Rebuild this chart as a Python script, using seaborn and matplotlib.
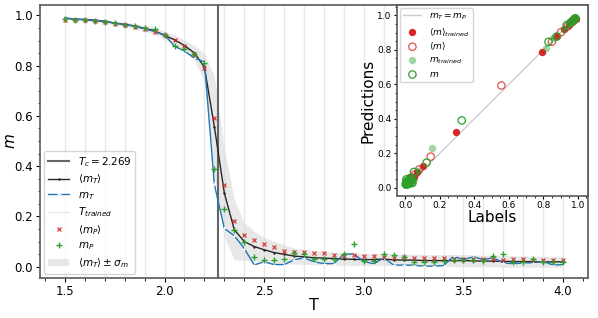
import matplotlib
matplotlib.use("Agg")
import matplotlib.pyplot as plt
import numpy as np
import seaborn as sns

# temperatures
T = [1.5, 1.55, 1.6, 1.65, 1.7, 1.75, 1.8, 1.85, 1.9, 1.95,
     2.0, 2.05, 2.1, 2.15, 2.2, 2.25, 2.3, 2.35, 2.4, 2.45,
     2.5, 2.55, 2.6, 2.65, 2.7, 2.75, 2.8, 2.85, 2.9, 2.95,
     3.0, 3.05, 3.1, 3.15, 3.2, 3.25, 3.3, 3.35, 3.4, 3.45,
     3.5, 3.55, 3.6, 3.65, 3.7, 3.75, 3.8, 3.85, 3.9, 3.95, 4.0]

# <m_T> mean magnetisation (true)
mT_mean = [0.989, 0.985, 0.983, 0.980, 0.976, 0.969, 0.964, 0.958, 0.948, 0.939,
           0.920, 0.903, 0.880, 0.850, 0.794, 0.557, 0.293, 0.147, 0.100, 0.080,
           0.067, 0.056, 0.049, 0.042, 0.039, 0.035, 0.034, 0.032, 0.030, 0.029,
           0.028, 0.028, 0.030, 0.027, 0.026, 0.026, 0.024, 0.024, 0.024, 0.024,
           0.024, 0.023, 0.022, 0.022, 0.021, 0.020, 0.020, 0.020, 0.019, 0.019, 0.019]

# m_T single sample (true)
mT = [0.990, 0.985, 0.984, 0.981, 0.977, 0.969, 0.963, 0.957, 0.946, 0.936,
      0.922, 0.877, 0.858, 0.830, 0.815, 0.327, 0.152, 0.123, 0.072, 0.007,
      0.019, 0.008, 0.008, 0.027, 0.035, 0.019, 0.012, 0.012, 0.050, 0.050,
      0.021, 0.011, 0.035, 0.006, 0.006, 0.006, 0.002, 0.002, 0.004, 0.041,
      0.028, 0.039, 0.028, 0.035, 0.015, 0.011, 0.015, 0.015, 0.021, 0.006, 0.008]

# <m_P> mean prediction
mP_mean = [0.982, 0.981, 0.980, 0.977, 0.972, 0.966, 0.960, 0.955, 0.945, 0.934,
           0.920, 0.903, 0.878, 0.847, 0.790, 0.593, 0.325, 0.180, 0.125, 0.105,
           0.090, 0.077, 0.064, 0.058, 0.057, 0.053, 0.053, 0.046, 0.044, 0.048,
           0.044, 0.041, 0.039, 0.035, 0.039, 0.035, 0.035, 0.035, 0.035, 0.032,
           0.032, 0.032, 0.032, 0.032, 0.028, 0.030, 0.030, 0.028, 0.028, 0.028, 0.028]

# m_P single sample prediction
mP = [0.984, 0.983, 0.981, 0.979, 0.975, 0.968, 0.962, 0.957, 0.950, 0.944,
      0.923, 0.877, 0.866, 0.847, 0.810, 0.390, 0.231, 0.145, 0.097, 0.037,
      0.025, 0.025, 0.030, 0.056, 0.050, 0.032, 0.030, 0.032, 0.052, 0.091,
      0.024, 0.021, 0.052, 0.048, 0.037, 0.019, 0.019, 0.019, 0.024, 0.028,
      0.028, 0.028, 0.021, 0.041, 0.050, 0.019, 0.019, 0.032, 0.019, 0.019, 0.019]

# sigma_m
sigma = [0.004, 0.005, 0.005, 0.006, 0.007, 0.008, 0.009, 0.010, 0.012, 0.014,
         0.016, 0.019, 0.022, 0.030, 0.055, 0.200, 0.175, 0.120, 0.075, 0.060,
         0.050, 0.045, 0.038, 0.032, 0.030, 0.028, 0.027, 0.026, 0.025, 0.025,
         0.024, 0.024, 0.024, 0.024, 0.024, 0.024, 0.024, 0.024, 0.024, 0.024,
         0.024, 0.024, 0.023, 0.023, 0.023, 0.023, 0.022, 0.022, 0.022, 0.022, 0.022]

T_trained = [1.5, 1.6, 1.7, 1.8, 1.9, 2.0, 2.1, 2.2, 2.3, 2.4, 2.5, 2.6, 2.7,
             2.8, 2.9, 3.0, 3.1, 3.2, 3.3, 3.4, 3.5, 3.6, 3.7, 3.8, 3.9, 4.0]
Tc = 2.269

T_arr = np.array(T)
mT_mean_arr = np.array(mT_mean)
sig_arr = np.array(sigma)
trained = np.isin(np.round(T_arr, 2), np.round(T_trained, 2))

fig = plt.figure(figsize=(5.98, 3.18), dpi=100)
ax = fig.add_axes([0.0669, 0.126, 0.9164, 0.858])

band = ax.fill_between(T_arr, mT_mean_arr - sig_arr, mT_mean_arr + sig_arr,
                       color='0.84', alpha=0.55, lw=0)
for t in T_trained:
    vl = ax.axvline(t, color='0.91', lw=1, zorder=0.5)
tc_line = ax.axvline(Tc, color='0.4', lw=1.5)

sns.lineplot(x=T, y=mT_mean, ax=ax, color='0.15', lw=1, marker='.',
             markersize=3.5, markeredgewidth=0)
sns.lineplot(x=T, y=mT, ax=ax, color='tab:blue', lw=1, marker='+',
             markersize=2.5, markeredgewidth=0.6)
h_mean, = ax.plot(T, mP_mean, ls='none', color='tab:red', marker='x',
                  markersize=3.5, markeredgewidth=1, alpha=0.8)
h_mp, = ax.plot(T, mP, ls='none', color='tab:green', marker='+',
                markersize=4, markeredgewidth=1)

lines = ax.get_lines()
handles = [tc_line, lines[-4], lines[-3], vl, h_mean, h_mp, band]
labels = [r'$T_c = 2.269$', r'$\langle m_T\rangle$', r'$m_T$', r'$T_{trained}$',
          r'$\langle m_P\rangle$', r'$m_P$', r'$\langle m_T\rangle \pm \sigma_m$']
ax.legend(handles, labels, loc='lower left', fontsize=7.5, framealpha=0.8,
          labelspacing=0.35, borderaxespad=0.4)

ax.set_xlim(1.375, 4.125)
ax.set_ylim(-0.045, 1.041)
ax.minorticks_on()
ax.tick_params(which='major', labelsize=8.5, length=3, pad=2)
ax.tick_params(which='minor', length=1.8)
ax.set_xlabel('T', fontsize=11.5, labelpad=0)
ax.set_ylabel(r'$m$', fontsize=11)
ax.yaxis.set_label_coords(-0.04, 0.5)
for s in ax.spines.values():
    s.set_color('0.35')
    s.set_linewidth(1.2)

# inset: predictions vs labels
axin = fig.add_axes([0.664, 0.384, 0.319, 0.600])
axin.set_facecolor('white')
mT_arr = np.array(mT)
mP_arr = np.array(mP)
mP_mean_arr = np.array(mP_mean)

l1, = axin.plot([0, 1], [0, 1], color='0.8', lw=1)
sns.scatterplot(x=mT_mean_arr[trained], y=mP_mean_arr[trained], ax=axin,
                color='tab:red', s=28, linewidth=0, zorder=3)
sns.scatterplot(x=mT_mean_arr[~trained], y=mP_mean_arr[~trained], ax=axin,
                facecolor='none', edgecolor='tab:red', s=28, linewidth=0.9,
                alpha=0.8, zorder=3)
sns.scatterplot(x=mT_arr[trained], y=mP_arr[trained], ax=axin,
                color='tab:green', s=28, linewidth=0, alpha=0.45, zorder=4)
sns.scatterplot(x=mT_arr[~trained], y=mP_arr[~trained], ax=axin,
                facecolor='none', edgecolor='tab:green', s=28, linewidth=0.9,
                zorder=4)
cols = axin.collections
axin.legend([l1] + list(cols[-4:]),
            [r'$m_T = m_P$', r'$\langle m\rangle_{trained}$', r'$\langle m\rangle$',
             r'$m_{trained}$', r'$m$'],
            loc='upper left', fontsize=6.5, framealpha=0.8, labelspacing=0.4,
            borderaxespad=0.3)
axin.set_xlim(-0.048, 1.058)
axin.set_ylim(-0.048, 1.06)
axin.minorticks_on()
axin.tick_params(which='major', labelsize=6.5, length=2.5, pad=1.5)
axin.tick_params(which='minor', length=1.5)
axin.set_xlabel('Labels', fontsize=11, labelpad=0)
axin.set_ylabel('Predictions', fontsize=11, labelpad=1)
for s in axin.spines.values():
    s.set_color('0.35')
    s.set_linewidth(1.2)

fig.savefig('out.png', dpi=100)
